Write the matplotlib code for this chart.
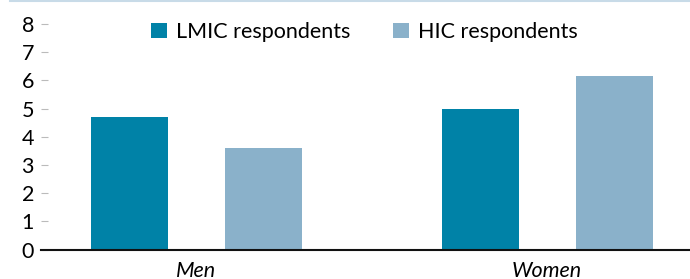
import matplotlib
matplotlib.use("Agg")
import matplotlib.pyplot as plt
from matplotlib.lines import Line2D
import numpy as np

categories = ["Men", "Women"]
series_names = ["LMIC respondents", "HIC respondents"]
lmic = [4.7, 5.0]
hic = [3.6, 6.15]
yticks = [0, 1, 2, 3, 4, 5, 6, 7, 8]

colors = ["#0082a7", "#8ab1ca"]

plt.rcParams["font.family"] = ["Lato", "DejaVu Sans"]

fig = plt.figure(figsize=(6.9, 2.79), dpi=100)
ax = fig.add_axes([41 / 690, 1 - 249.5 / 279, 649 / 690, 225.5 / 279])

x = np.arange(len(categories))
w, off = 0.219, 0.191
ax.bar(x - off, lmic, w, color=colors[0], label=series_names[0])
ax.bar(x + off, hic, w, color=colors[1], label=series_names[1])

ax.set_xlim(-0.442, 1.407)
ax.set_ylim(0, 8)
ax.set_yticks(yticks)
ax.set_xticks(x)
ax.set_xticklabels(categories, fontstyle="italic", fontsize=15.5)
ax.tick_params(axis="x", length=0, pad=8)
ax.tick_params(axis="y", direction="in", length=5, color="#bbbbbb", labelsize=15.5, pad=5)
for s in ["top", "right", "left"]:
    ax.spines[s].set_visible(False)
ax.spines["bottom"].set_linewidth(1.5)
ax.spines["bottom"].set_color("#111111")

ax.legend(loc="center", bbox_to_anchor=(0.498, 0.9645), ncol=2, frameon=False, borderpad=0,
          fontsize=15.5, handlelength=0.75, handleheight=0.75, columnspacing=1.95, handletextpad=0.42)

fig.add_artist(Line2D([10 / 690, 1], [1 - 1 / 279, 1 - 1 / 279], color="#c8dbe8", lw=1.5,
                      transform=fig.transFigure))

fig.savefig("out.png", dpi=100)
